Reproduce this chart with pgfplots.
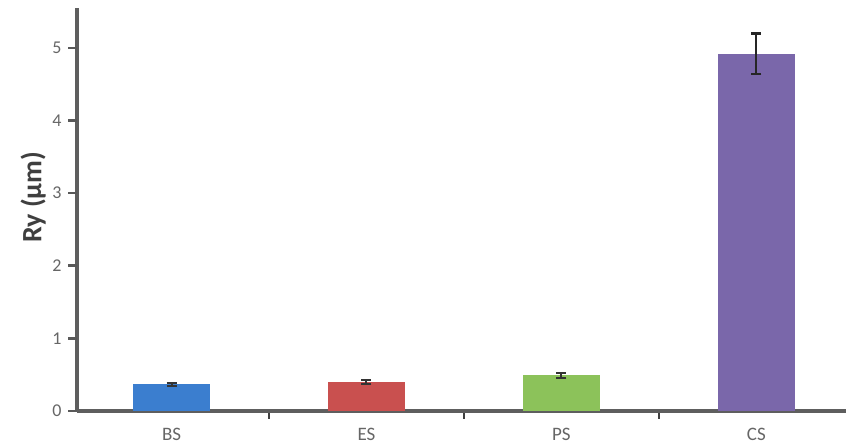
\documentclass[border=0pt]{standalone}
\usepackage{pgfplots}
\pgfplotsset{compat=1.18}
\usepackage{fontspec}
\setmainfont{Carlito}
\definecolor{axgray}{HTML}{5E5E5E}
\definecolor{tickgray}{HTML}{666666}
\definecolor{labgray}{HTML}{3F3F3F}
\definecolor{cBS}{HTML}{3B7ECF}
\definecolor{cES}{HTML}{C9504F}
\definecolor{cPS}{HTML}{8CC25A}
\definecolor{cCS}{HTML}{7A67AA}
\begin{document}
\begin{tikzpicture}
\begin{axis}[
  scale only axis,
  width=769pt, height=403pt,
  at={(0pt,0pt)}, anchor=south west,
  xmin=-0.485, xmax=3.46,
  ymin=0, ymax=5.55,
  axis x line*=bottom, axis y line*=left,
  axis line style={-, line width=3.6pt, color=axgray},
  /pgf/number format/assume math mode=true,
  xtick={0,1,2,3},
  xticklabels={BS,ES,PS,CS},
  minor xtick={0.5,1.5,2.5},
  every major x tick/.style={draw=none},
  ytick={0,1,2,3,4,5},
  xtick pos=bottom, ytick pos=left,
  tick style={line width=2.2pt, draw=labgray},
  major tick length=8pt,
  minor tick length=8pt,
  tick align=outside,
  xticklabel style={font=\fontsize{19}{21}\selectfont, color=tickgray, yshift=-6pt},
  yticklabel style={font=\fontsize{18}{20}\selectfont, color=tickgray, xshift=-4pt},
  ylabel={Ry (μm)},
  ylabel style={font=\fontsize{28}{32}\selectfont\bfseries, color=labgray, at={(axis description cs:-0.036,0.53)}, anchor=south},
  clip=false,
]
\addplot[ybar, bar width=77pt, fill=cBS, draw=none,
  error bars/.cd, y dir=both, y explicit,
  error bar style={line width=2pt, color=black!80},
  error mark options={rotate=90, mark size=5pt, line width=2pt, color=black!80}]
  coordinates {(0,0.37) +- (0,0.02)};
\addplot[ybar, bar width=77pt, fill=cES, draw=none,
  error bars/.cd, y dir=both, y explicit,
  error bar style={line width=2pt, color=black!80},
  error mark options={rotate=90, mark size=5pt, line width=2pt, color=black!80}]
  coordinates {(1,0.40) +- (0,0.03)};
\addplot[ybar, bar width=77pt, fill=cPS, draw=none,
  error bars/.cd, y dir=both, y explicit,
  error bar style={line width=2pt, color=black!80},
  error mark options={rotate=90, mark size=5pt, line width=2pt, color=black!80}]
  coordinates {(2,0.49) +- (0,0.04)};
\addplot[ybar, bar width=77pt, fill=cCS, draw=none,
  error bars/.cd, y dir=both, y explicit,
  error bar style={line width=2.2pt, color=black!85},
  error mark options={rotate=90, mark size=5pt, line width=2.2pt, color=black!85}]
  coordinates {(3,4.92) +- (0,0.28)};
\pgfplotsinvokeforeach{0,1,2,3,4,5}{
  \draw[black!65, line width=2.6pt] (axis cs:-0.485,#1) -- ++(-9pt,0pt);
}
\end{axis}
\pgfresetboundingbox
\useasboundingbox (-77pt,-33pt) rectangle (769pt,411pt);
\end{tikzpicture}
\end{document}
